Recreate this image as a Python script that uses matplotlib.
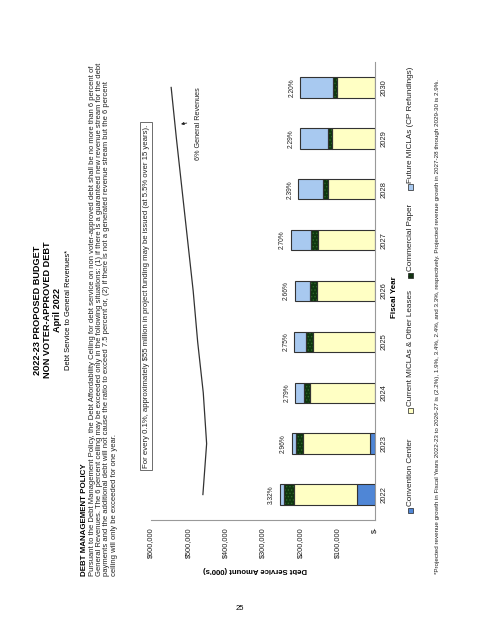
import numpy as np
import matplotlib
matplotlib.use("Agg")
import matplotlib.pyplot as plt
from matplotlib.patches import Rectangle
from matplotlib.ticker import FuncFormatter

plt.rcParams["font.family"] = ["Liberation Sans", "DejaVu Sans"]
plt.rcParams["hatch.linewidth"] = 0.6

# debt service by component, $000's
years = ["2022", "2023", "2024", "2025", "2026", "2027", "2028", "2029", "2030"]
convention = [47000, 13000, 0, 0, 0, 0, 0, 0, 0]
current_miclas = [171000, 180000, 174000, 167000, 155000, 153000, 126000, 115000, 101000]
comm_paper = [25000, 18000, 17000, 19000, 18000, 18000, 14000, 12000, 11000]
future_miclas = [12000, 12000, 22000, 31000, 42000, 55000, 65000, 75000, 88000]
rev_6pct = [461000, 451000, 460000, 475000, 487000, 502000, 517000, 532000, 546000]
pct_labels = ["3.32%", "2.96%", "2.79%", "2.75%", "2.66%", "2.70%", "2.39%", "2.29%", "2.20%"]

series_names = ["Convention Center", "Current MICLAs & Other Leases",
                "Commercial Paper", "Future MICLAs (CP Refundings)"]
colors = ["#4f86d6", "#ffffc4", "#0f360f", "#a8c9f0"]
hatches = [None, None, ".....", None]

W, H = 480, 622


def fx(x):
    return x / W


def fy(y):
    return 1 - y / H


fig = plt.figure(figsize=(W / 100, H / 100), dpi=100)
fig.patch.set_facecolor("white")

# page is a landscape chart turned a quarter turn counter-clockwise
ax = fig.add_axes([fx(151), fy(520), (375 - 151) / W, (520 - 62) / H])

pos = np.arange(len(years))
left = np.zeros(len(years))
for vals, col, hat in zip([convention, current_miclas, comm_paper, future_miclas],
                          colors, hatches):
    vals = np.array(vals, dtype=float)
    if hat:
        ax.barh(pos, vals, left=left, height=0.4, color=col, hatch=hat,
                edgecolor="#2e6629", linewidth=0, zorder=2)
        ax.barh(pos, vals, left=left, height=0.4, fill=False,
                edgecolor="#333333", linewidth=0.8, zorder=3)
    else:
        ax.barh(pos, vals, left=left, height=0.4, color=col,
                edgecolor="#333333", linewidth=0.8, zorder=2)
    left += vals

for p, tot, lab in zip(pos, left, pct_labels):
    ax.text(tot + 22000, p, lab, rotation=90, ha="center", va="center",
            fontsize=4.8, color="#222222")

ax.plot(rev_6pct, pos, color="#333333", lw=0.9, zorder=4)
ax.annotate("", xy=(527000, 7.27), xytext=(497000, 7.31),
            arrowprops=dict(arrowstyle="-|>", color="#222222", lw=0.6,
                            mutation_scale=4))
ax.text(473000, 7.29, "6% General Revenues", rotation=90, ha="center",
        va="center", fontsize=5.2, color="#222222")

ax.set_xlim(600000, 0)
ax.set_ylim(-0.5, 8.5)
ax.set_xticks(np.arange(0, 600001, 100000))
ax.xaxis.set_major_formatter(FuncFormatter(
    lambda v, _: "$-" if v == 0 else f"${v:,.0f}"))
ax.set_yticks(pos)
ax.set_yticklabels(years)
ax.yaxis.tick_right()
ax.tick_params(axis="x", length=0, pad=5, labelsize=5.3, labelrotation=90,
               colors="#222222")
ax.tick_params(axis="y", length=0, pad=4, labelsize=5.5, labelrotation=90,
               colors="#222222")
for lab in ax.get_yticklabels():
    lab.set_va("center")
for s in ["top", "left"]:
    ax.spines[s].set_visible(False)
for s in ["right", "bottom"]:
    ax.spines[s].set_color("#999999")
    ax.spines[s].set_linewidth(0.8)

fig.text(fx(255), fy(569), "Debt Service Amount (000's)", rotation=180,
         ha="center", va="center", fontsize=5.6, fontweight="bold")
fig.text(fx(395), fy(297), "Fiscal Year", rotation=90, ha="center",
         va="center", fontsize=5.8, fontweight="bold")

# titles
fig.text(fx(37), fy(310), "2022-23 PROPOSED BUDGET", rotation=90, ha="center",
         va="center", fontsize=6.6, fontweight="bold")
fig.text(fx(47.5), fy(310), "NON VOTER-APPROVED DEBT", rotation=90, ha="center",
         va="center", fontsize=6.6, fontweight="bold")
fig.text(fx(57.5), fy(310), "April 2022", rotation=90, ha="center",
         va="center", fontsize=6.6, fontweight="bold")
fig.text(fx(68.5), fy(310), "Debt Service to General Revenues*", rotation=90,
         ha="center", va="center", fontsize=5.4)

# policy note
fig.text(fx(85), fy(576), "DEBT MANAGEMENT POLICY", rotation=90, ha="center",
         va="bottom", fontsize=5.7, fontweight="bold")
policy = [
    "Pursuant to the Debt Management Policy, the Debt Affordability Ceiling for debt service on non voter-approved debt shall be no more than 6 percent of",
    "General Revenues. The 6 percent ceiling may be exceeded only in the following situations: (1) if there is a guaranteed new revenue stream for the debt",
    "payments and the additional debt will not cause the ratio to exceed 7.5 percent or, (2) if there is not a generated revenue stream but the 6 percent",
    "ceiling will only be exceeded for one year.",
]
for i, line in enumerate(policy):
    fig.text(fx(92.5 + 7.2 * i), fy(576), line, rotation=90, ha="center",
             va="bottom", fontsize=5.5, color="#222222")

fig.text(fx(146), fy(296),
         "For every 0.1%, approximately $55 million in project funding may be issued (at 5.5% over 15 years).",
         rotation=90, ha="center", va="center", fontsize=5.6, color="#222222",
         bbox=dict(boxstyle="square,pad=0.3", facecolor="white",
                   edgecolor="#555555", lw=0.6))

# legend
leg_y = [510, 410, 275, 187]
for yy, name, col, hat in zip(leg_y, series_names, colors, hatches):
    fig.patches.append(Rectangle((fx(407.5), fy(yy + 2.5)), 5 / W, 5 / H,
                                 transform=fig.transFigure, facecolor=col,
                                 hatch=hat, edgecolor="#222222", lw=0.5))
    fig.text(fx(410), fy(yy - 4), name, rotation=90, ha="center", va="bottom",
             fontsize=5.9, color="#222222")

fig.text(fx(438), fy(574),
         "*Projected revenue growth in Fiscal Years 2022-23 to 2026-27 is (2.2%), 1.9%, 3.4%, 2.4%, and 3.3%, respectively. Projected revenue growth in 2027-28 through 2029-30 is 2.9%.",
         rotation=90, ha="center", va="bottom", fontsize=4.5, color="#222222")

fig.text(fx(240), fy(609), "25", ha="center", va="center", fontsize=5.5)

fig.savefig("out.png", dpi=100)
